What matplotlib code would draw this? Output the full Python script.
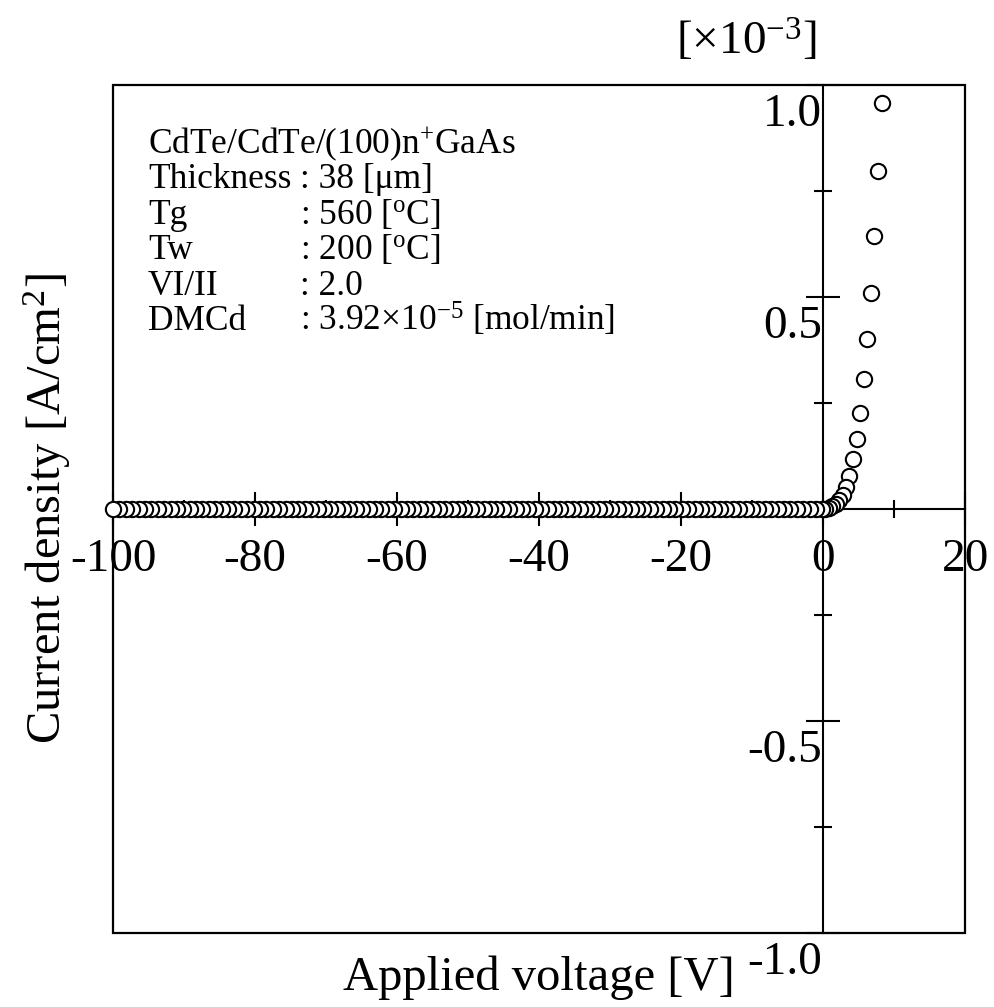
import numpy as np
import matplotlib
matplotlib.use('Agg')
import matplotlib.pyplot as plt
from matplotlib.ticker import FixedLocator
from matplotlib.transforms import ScaledTranslation

plt.rcParams['font.family'] = ['Liberation Serif', 'DejaVu Serif']
plt.rcParams['mathtext.fontset'] = 'custom'
plt.rcParams['mathtext.rm'] = 'Liberation Serif'
plt.rcParams['mathtext.it'] = 'Liberation Serif:italic'
plt.rcParams['mathtext.bf'] = 'Liberation Serif:bold'

# reverse bias sweep [V] (current reads as ~0 at this scale)
voltage_neg = [
    -100.0, -99.1, -98.2, -97.3, -96.4, -95.5, -94.6, -93.7, -92.8, -91.9,
    -91.0, -90.1, -89.2, -88.3, -87.4, -86.5, -85.6, -84.7, -83.8, -82.9,
    -82.0, -81.1, -80.2, -79.3, -78.4, -77.5, -76.6, -75.7, -74.8, -73.9,
    -73.0, -72.1, -71.2, -70.3, -69.4, -68.5, -67.6, -66.7, -65.8, -64.9,
    -64.0, -63.1, -62.2, -61.3, -60.4, -59.5, -58.6, -57.7, -56.8, -55.9,
    -55.0, -54.1, -53.2, -52.3, -51.4, -50.5, -49.6, -48.7, -47.8, -46.9,
    -46.0, -45.1, -44.2, -43.3, -42.4, -41.5, -40.6, -39.7, -38.8, -37.9,
    -37.0, -36.1, -35.2, -34.3, -33.4, -32.5, -31.6, -30.7, -29.8, -28.9,
    -28.0, -27.1, -26.2, -25.3, -24.4, -23.5, -22.6, -21.7, -20.8, -19.9,
    -19.0, -18.1, -17.2, -16.3, -15.4, -14.5, -13.6, -12.7, -11.8, -10.9,
    -10.0, -9.1, -8.2, -7.3, -6.4, -5.5, -4.6, -3.7, -2.8, -1.9,
    -1.0, -0.1,
]
current_neg = np.zeros(len(voltage_neg))

# forward bias [V], current density [x1e-3 A/cm2]
voltage_pos = [0.3, 0.8, 1.3, 1.8, 2.3, 2.8, 3.25, 3.7, 4.25, 4.75,
               5.2, 5.75, 6.25, 6.7, 7.2, 7.7, 8.25]
current_pos = [0.001, 0.003, 0.006, 0.012, 0.021, 0.033, 0.051, 0.078, 0.117, 0.165,
               0.227, 0.306, 0.402, 0.510, 0.644, 0.797, 0.958]

xticks = [-100, -80, -60, -40, -20, 0, 20]
xticklabels = ['-100', '-80', '-60', '-40', '-20', '0', '20']
yticks = [-1.0, -0.5, 0.0, 0.5, 1.0]
yticklabels = ['-1.0', '-0.5', '', '0.5', '1.0']

info_keys = ['Thickness', 'Tg', 'Tw', 'VI/II', 'DMCd']
info_vals = [': 38 [\u03bcm]', ': 560 [$^{\\rm o}$C]', ': 200 [$^{\\rm o}$C]',
             ': 2.0', ': 3.92\u00d710$^{-5}$ [mol/min]']

fig = plt.figure(figsize=(9.95, 10.07), dpi=100)
ax = fig.add_axes([0.1136, 0.0735, 0.8563, 0.8421])

# sweep was taken from + to -, later points sit on top
V = list(voltage_pos[::-1]) + list(voltage_neg[::-1])
J = list(current_pos[::-1]) + list(current_neg[::-1])
ax.plot(V, J, 'o', ms=11, mfc='white', mec='black', mew=1.5, clip_on=False, zorder=4)

ax.set_xlim(-100, 20)
ax.set_ylim(-1.0, 1.0)

ax.spines['left'].set_position(('data', 0))
ax.spines['bottom'].set_position(('data', 0))
ax.spines['top'].set_visible(False)
ax.spines['right'].set_visible(False)
for s in ['left', 'bottom']:
    ax.spines[s].set_linewidth(1.5)
ax.add_patch(plt.Rectangle((0, 0), 1, 1, transform=ax.transAxes, fill=False,
                           lw=1.6, ec='black', clip_on=False, zorder=3))

ax.set_xticks(xticks)
ax.set_xticklabels(xticklabels)
ax.xaxis.set_minor_locator(FixedLocator([-90, -70, -50, -30, -10, 10]))
ax.set_yticks(yticks)
ax.set_yticklabels(yticklabels)
ax.yaxis.set_minor_locator(FixedLocator([-0.75, -0.25, 0.25, 0.75]))

ax.tick_params(which='major', direction='inout', length=25, width=1.5, labelsize=34)
ax.tick_params(which='minor', direction='inout', length=13, width=1.5)
ax.tick_params(axis='x', which='major', pad=9)
ax.tick_params(axis='y', which='major', pad=-12)
shift = ScaledTranslation(0, -0.09, fig.dpi_scale_trans)
for lab in ax.get_yticklabels():
    lab.set_va('top')
    lab.set_transform(lab.get_transform() + shift)

ax.set_xlabel('Applied voltage [V]', fontsize=35)
ax.xaxis.set_label_coords(0.5, -0.0265)
ax.set_ylabel('Current density [A/cm$^{2}$]', fontsize=35)
ax.yaxis.set_label_coords(-0.047, 0.5)

ax.text(0.826, 1.024, '[\u00d710$^{-3}$]', transform=ax.transAxes,
        ha='right', va='bottom', fontsize=34)

ax.text(0.041, 0.9198, 'CdTe/CdTe/(100)n$^{+}$GaAs', transform=ax.transAxes,
        va='baseline', fontsize=25.5)
for i, (k, v) in enumerate(zip(info_keys, info_vals)):
    y = 0.8785 - i * 0.0420
    ax.text(0.041, y, k, transform=ax.transAxes, va='baseline', fontsize=25.5)
    ax.text(0.2195, y, v, transform=ax.transAxes, va='baseline', fontsize=25.5)

fig.savefig('out.png', dpi=100)
